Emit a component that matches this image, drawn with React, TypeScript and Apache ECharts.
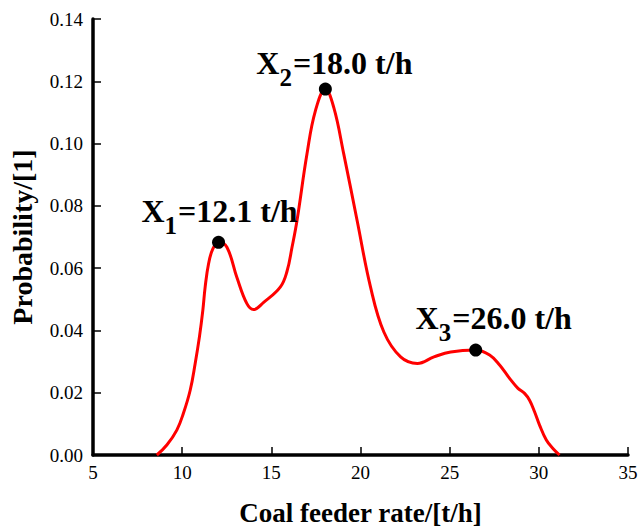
import React, { useEffect, useRef } from "react";
import * as echarts from "echarts";

const rateX = [8.58, 9.14, 9.7, 10.07, 10.45, 10.73, 10.97, 11.16, 11.29, 11.48, 11.72, 12.04, 12.51, 13.07, 13.63, 14.0, 14.57, 15.51, 15.88, 16.16, 16.44, 17.0, 17.47, 18.03, 18.5, 19.06, 19.81, 20.56, 21.31, 22.25, 23.19, 24.12, 25.06, 26.46, 27.24, 27.8, 28.36, 28.83, 29.2, 29.48, 29.76, 30.04, 30.42, 30.79, 31.16];
const probY = [0, 0.0032, 0.008, 0.0134, 0.0208, 0.0294, 0.038, 0.0465, 0.054, 0.0614, 0.0662, 0.0683, 0.0667, 0.057, 0.0486, 0.0467, 0.049, 0.054, 0.059, 0.0667, 0.0753, 0.0967, 0.1105, 0.1175, 0.1116, 0.0967, 0.0753, 0.054, 0.0395, 0.0315, 0.0294, 0.0315, 0.0331, 0.0337, 0.0321, 0.0289, 0.0246, 0.0214, 0.0198, 0.0176, 0.0139, 0.0096, 0.0048, 0.0021, 0];

const peakX = [12.04, 18.03, 26.46];
const peakY = [0.0683, 0.1175, 0.0337];
const peakSub = ["1", "2", "3"];
const peakText = ["=12.1 t/h", "=18.0 t/h", "=26.0 t/h"];

const xTicks = { min: 5, max: 35, interval: 5 };
const yTicks = { min: 0, max: 0.14, interval: 0.02 };

const FONT = "'Liberation Serif', 'Times New Roman', serif";

export default function App() {
  const ref = useRef<HTMLDivElement>(null);
  useEffect(() => {
    if (!ref.current) return;
    const chart = echarts.init(ref.current, null, { renderer: "svg" });
    const labelOffsets = [[1, -6], [9, -1], [18, -7]];
    chart.setOption({
      animation: false,
      backgroundColor: "#fff",
      grid: { left: 93, right: 10, top: 19, bottom: 71, containLabel: false, outerBoundsMode: "none" },
      xAxis: {
        type: "value",
        min: xTicks.min,
        max: xTicks.max,
        interval: xTicks.interval,
        name: "Coal feeder rate/[t/h]",
        nameLocation: "middle",
        nameGap: 44,
        nameTextStyle: { fontFamily: FONT, fontWeight: "bold", fontSize: 27, color: "#000" },
        axisLine: { show: true, lineStyle: { color: "#000", width: 3.5 } },
        axisTick: { show: true, inside: true, length: 8, lineStyle: { color: "#000", width: 1.5 } },
        axisLabel: { fontFamily: FONT, fontSize: 19, color: "#000", margin: 8 },
        splitLine: { show: false },
      },
      yAxis: {
        type: "value",
        min: yTicks.min,
        max: yTicks.max,
        interval: yTicks.interval,
        name: "Probability/[1]",
        nameLocation: "middle",
        nameRotate: 90,
        nameGap: 57,
        nameTextStyle: { fontFamily: FONT, fontWeight: "bold", fontSize: 28, color: "#000" },
        axisLine: { show: true, lineStyle: { color: "#000", width: 3.5 } },
        axisTick: { show: true, inside: true, length: 8, lineStyle: { color: "#000", width: 1.5 } },
        axisLabel: {
          fontFamily: FONT,
          fontSize: 19,
          color: "#000",
          margin: 10,
          formatter: (v: number) => v.toFixed(2),
        },
        splitLine: { show: false },
      },
      series: [
        {
          type: "line",
          data: rateX.map((x, i) => [x, probY[i]]),
          smooth: 0.4,
          showSymbol: false,
          lineStyle: { color: "#ff0000", width: 3 },
          z: 2,
        },
        {
          type: "scatter",
          data: peakX.map((x, i) => ({
            value: [x, peakY[i]],
            label: {
              formatter: `{m|X}{s|${peakSub[i]}}{m|${peakText[i]}}`,
              offset: labelOffsets[i],
            },
          })),
          symbolSize: 13,
          itemStyle: { color: "#000", opacity: 1 },
          z: 3,
          label: {
            show: true,
            position: "top",
            distance: 3,
            opacity: 1,
            rich: {
              m: { fontFamily: FONT, fontWeight: "bold", fontSize: 32, color: "#000", verticalAlign: "top", lineHeight: 32 },
              s: { fontFamily: FONT, fontWeight: "bold", fontSize: 25, color: "#000", verticalAlign: "top", lineHeight: 25, padding: [18, 1, 0, 0] },
            },
          },
        },
      ],
    });
    return () => chart.dispose();
  }, []);
  return <div ref={ref} style={{ width: 638, height: 526, position: "absolute", left: 0, top: 0 }} />;
}
